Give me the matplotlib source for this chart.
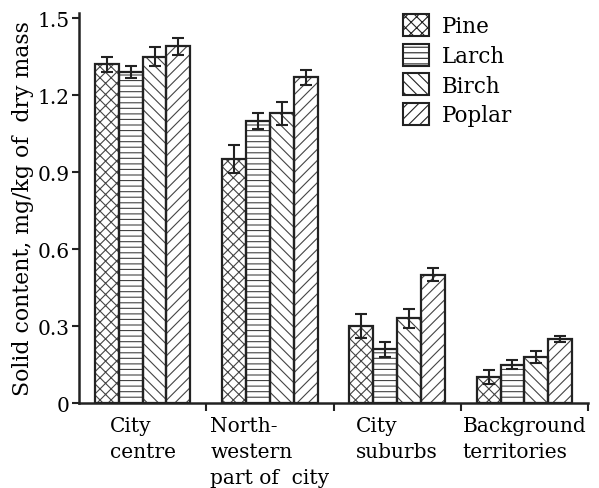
import matplotlib
matplotlib.use("Agg")
import matplotlib.pyplot as plt
import numpy as np
from matplotlib.patches import Patch

categories = ["City\ncentre", "North-\nwestern\npart of  city", "City\nsuburbs", "Background\nterritories"]
species = ["Pine", "Larch", "Birch", "Poplar"]
values = {
    "Pine":   [1.32, 0.95, 0.30, 0.10],
    "Larch":  [1.29, 1.10, 0.21, 0.15],
    "Birch":  [1.35, 1.13, 0.33, 0.18],
    "Poplar": [1.39, 1.27, 0.50, 0.25],
}
errors = {
    "Pine":   [0.030, 0.055, 0.045, 0.027],
    "Larch":  [0.023, 0.032, 0.029, 0.016],
    "Birch":  [0.036, 0.045, 0.038, 0.024],
    "Poplar": [0.034, 0.029, 0.025, 0.013],
}
hatches = ["xxx", "---", "\\\\\\", "///"]
yticks = [0, 0.3, 0.6, 0.9, 1.2, 1.5]
ytick_labels = ["0", "0.3", "0.6", "0.9", "1.2", "1.5"]

plt.rcParams['font.family'] = ['DejaVu Serif']
plt.rcParams['hatch.linewidth'] = 0.8

fig = plt.figure(figsize=(5.99, 4.89), dpi=100)
ax = fig.add_axes([79/599, 1-404/489, (588-79)/599, (404-14)/489])

x = np.arange(len(categories))
w = 0.1875
for i, sp in enumerate(species):
    pos = x + (i - 1.5) * w
    ax.bar(pos, values[sp], w, color='white', edgecolor='#444444', hatch=hatches[i], linewidth=0, zorder=2)
    ax.bar(pos, values[sp], w, facecolor='none', edgecolor='#222222', linewidth=1.6, zorder=3, label=sp)
    ax.errorbar(pos, values[sp], yerr=errors[sp], fmt='none', ecolor='#222222', elinewidth=1.5, capsize=4, capthick=1.5, zorder=4)

ax.set_xlim(-0.5, 3.5)
ax.set_ylim(0, 1.52)
ax.set_yticks(yticks)
ax.set_yticklabels(ytick_labels, fontsize=14.5)
ax.set_xticks(x)
ax.set_xticklabels(categories, fontsize=14.5, ma='left', va='top', linespacing=1.5)
ax.tick_params(axis='x', which='major', length=0, pad=9)
ax.set_xticks([0.5, 1.5, 2.5, 3.5], minor=True)
ax.tick_params(axis='x', which='minor', length=6, width=1.5, direction='out', color='#222222')
ax.tick_params(axis='y', length=5, width=1.5, direction='out', pad=2, color='#222222')
for s in ['top', 'right']:
    ax.spines[s].set_visible(False)
for s in ['left', 'bottom']:
    ax.spines[s].set_linewidth(1.8)
    ax.spines[s].set_color('#222222')

ax.set_ylabel("Solid content, mg/kg of  dry mass", fontsize=15.8, labelpad=2)

handles = [Patch(facecolor='white', edgecolor='#222222', hatch=hatches[i], linewidth=1.5, label=sp) for i, sp in enumerate(species)]
ax.legend(handles=handles, loc='upper left', bbox_to_anchor=(392/599, 1-4/489), bbox_transform=fig.transFigure,
          frameon=False, fontsize=15.5, handlelength=1.2, handleheight=1.2, labelspacing=0.3, handletextpad=0.6, borderpad=0)

fig.savefig("out.png", dpi=100)
